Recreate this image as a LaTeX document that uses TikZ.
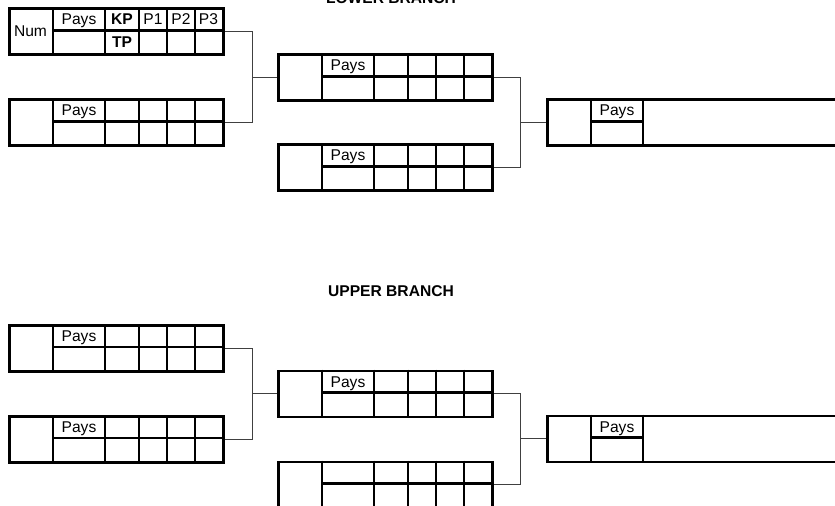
\documentclass[tikz,border=0pt]{standalone}
\usepackage{fontspec}
\setmainfont{Liberation Sans}
\usetikzlibrary{arrows,shapes,backgrounds}

\begin{document}
\begin{tikzpicture}[x=1bp,y=-1bp,line join=miter,
  teambox/.style={draw,line width=2.8bp,inner sep=0pt,minimum width=214bp,minimum height=46bp,anchor=north west},
  finalbox/.style={teambox,minimum width=330bp},
  cell/.style={line width=2.3bp},
  link/.style={line width=1bp,draw=black!75},
  txt/.style={inner sep=0pt,anchor=base,font=\fontsize{15.6bp}{18bp}\selectfont},
  head/.style={txt,font=\fontsize{15.6bp}{18bp}\selectfont\bfseries}]
  \useasboundingbox (0,0) rectangle (835,506);
  \clip (0,0) rectangle (835,506);
%%
  \node[head] (lowertitle) at (391,3.5) {LOWER BRANCH};
  \node[head] (uppertitle) at (391,297) {UPPER BRANCH};
  % Node: lo1
\begin{scope}
  \node[teambox] (lo1) at (8,7.5) {};
  \begin{scope}[shift={(lo1.north west)}]
  \draw[cell] (45,0) -- (45,46) (45,23) -- (214,23);
  \foreach \x in {97,131,159,187} \draw[cell] (\x,0) -- (\x,46);
  \node[txt] (lo1num) at (22.5,29) {Num};
  \node[txt] (lo1pays) at (71,17.5) {Pays};
  \node[head] (lo1kp) at (114,17.5) {KP};
  \node[head] (lo1tp) at (114,40.5) {TP};
  \node[txt] (lo1p1) at (145,17.5) {P1};
  \node[txt] (lo1p2) at (173,17.5) {P2};
  \node[txt] (lo1p3) at (200.5,17.5) {P3};
  \end{scope}
\end{scope}
  % Node: lo2
\begin{scope}
  \node[teambox] (lo2) at (8,98.5) {};
  \begin{scope}[shift={(lo2.north west)}]
  \draw[cell] (45,0) -- (45,46) (45,23) -- (214,23);
  \foreach \x in {97,131,159,187} \draw[cell] (\x,0) -- (\x,46);
  \node[txt] (lo2pays) at (71,17.5) {Pays};
  \end{scope}
\end{scope}
  % Node: lo3
\begin{scope}
  \node[teambox] (lo3) at (277,53.5) {};
  \begin{scope}[shift={(lo3.north west)}]
  \draw[cell] (45,0) -- (45,46) (45,23) -- (214,23);
  \foreach \x in {97,131,159,187} \draw[cell] (\x,0) -- (\x,46);
  \node[txt] (lo3pays) at (71,17.5) {Pays};
  \end{scope}
\end{scope}
  % Node: lo4
\begin{scope}
  \node[teambox] (lo4) at (277,143.5) {};
  \begin{scope}[shift={(lo4.north west)}]
  \draw[cell] (45,0) -- (45,46) (45,23) -- (214,23);
  \foreach \x in {97,131,159,187} \draw[cell] (\x,0) -- (\x,46);
  \node[txt] (lo4pays) at (71,17.5) {Pays};
  \end{scope}
\end{scope}
  % Node: lo5
\begin{scope}
  \node[finalbox] (lo5) at (546,98.5) {};
  \begin{scope}[shift={(lo5.north west)}]
  \draw[cell] (45,0) -- (45,46) (45,23) -- (97,23) (97,0) -- (97,46);
  \node[txt] (lo5pays) at (71,17.5) {Pays};
  \end{scope}
\end{scope}
  % Node: up1
\begin{scope}
  \node[teambox] (up1) at (8,324) {};
  \begin{scope}[shift={(up1.north west)}]
  \draw[cell] (45,0) -- (45,46) (45,23) -- (214,23);
  \foreach \x in {97,131,159,187} \draw[cell] (\x,0) -- (\x,46);
  \node[txt] (up1pays) at (71,17.5) {Pays};
  \end{scope}
\end{scope}
  % Node: up2
\begin{scope}
  \node[teambox] (up2) at (8,415) {};
  \begin{scope}[shift={(up2.north west)}]
  \draw[cell] (45,0) -- (45,46) (45,23) -- (214,23);
  \foreach \x in {97,131,159,187} \draw[cell] (\x,0) -- (\x,46);
  \node[txt] (up2pays) at (71,17.5) {Pays};
  \end{scope}
\end{scope}
  % Node: up3
\begin{scope}
  \node[teambox] (up3) at (277,369.5) {};
  \begin{scope}[shift={(up3.north west)}]
  \draw[cell] (45,0) -- (45,46) (45,23) -- (214,23);
  \foreach \x in {97,131,159,187} \draw[cell] (\x,0) -- (\x,46);
  \node[txt] (up3pays) at (71,17.5) {Pays};
  \end{scope}
\end{scope}
  % Node: up4
\begin{scope}
  \node[teambox] (up4) at (277,460.5) {};
  \begin{scope}[shift={(up4.north west)}]
  \draw[cell] (45,0) -- (45,46) (45,23) -- (214,23);
  \foreach \x in {97,131,159,187} \draw[cell] (\x,0) -- (\x,46);
  \end{scope}
\end{scope}
  % Node: up5
\begin{scope}
  \node[finalbox] (up5) at (546,414.5) {};
  \begin{scope}[shift={(up5.north west)}]
  \draw[cell] (45,0) -- (45,46) (45,23) -- (97,23) (97,0) -- (97,46);
  \node[txt] (up5pays) at (71,17.5) {Pays};
  \end{scope}
\end{scope}
  % Edge: lo1, lo2 -> lo3
  \draw[link] (lo1.east) -- ++(28,0) coordinate (lj1) |- (lo2.east);
  \draw[link] (lj1 |- lo3.west) -- (lo3.west);
  % Edge: lo3, lo4 -> lo5
  \draw[link] (lo3.east) -- ++(27,0) coordinate (lj2) |- (lo4.east);
  \draw[link] (lj2 |- lo5.west) -- (lo5.west);
  % Edge: up1, up2 -> up3
  \draw[link] (up1.east) -- ++(28,0) coordinate (uj1) |- (up2.east);
  \draw[link] (uj1 |- up3.west) -- (up3.west);
  % Edge: up3, up4 -> up5
  \draw[link] (up3.east) -- ++(27,0) coordinate (uj2) |- (up4.east);
  \draw[link] (uj2 |- up5.west) -- (up5.west);
%
\end{tikzpicture}
\end{document}
